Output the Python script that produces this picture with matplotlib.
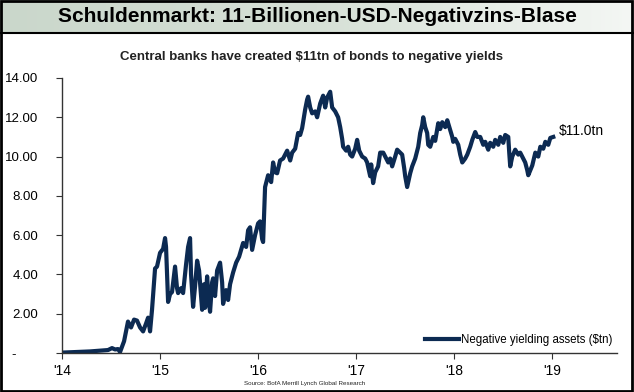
import matplotlib.pyplot as plt
import numpy as np
from matplotlib.colors import LinearSegmentedColormap
from matplotlib.patches import Rectangle

plt.rcParams['font.family'] = ['Liberation Sans', 'DejaVu Sans']

# negative yielding assets ($tn) (decimal years)
years = [2014.000, 2014.133, 2014.286, 2014.388, 2014.469, 2014.510, 2014.541, 2014.571, 2014.592, 2014.633,
         2014.673, 2014.704, 2014.735, 2014.765, 2014.796, 2014.827, 2014.857, 2014.878, 2014.898, 2014.918,
         2014.949, 2014.969, 2015.000, 2015.031, 2015.051, 2015.061, 2015.082, 2015.102, 2015.122, 2015.153,
         2015.173, 2015.184, 2015.214, 2015.235, 2015.265, 2015.286, 2015.306, 2015.316, 2015.337, 2015.357,
         2015.378, 2015.398, 2015.429, 2015.449, 2015.459, 2015.480, 2015.500, 2015.510, 2015.531, 2015.541,
         2015.561, 2015.582, 2015.612, 2015.633, 2015.643, 2015.673, 2015.694, 2015.714, 2015.745, 2015.776,
         2015.806, 2015.847, 2015.878, 2015.898, 2015.918, 2015.939, 2015.969, 2016.000, 2016.020, 2016.041,
         2016.051, 2016.071, 2016.102, 2016.133, 2016.153, 2016.173, 2016.194, 2016.224, 2016.255, 2016.276,
         2016.296, 2016.327, 2016.347, 2016.378, 2016.408, 2016.429, 2016.449, 2016.480, 2016.500, 2016.510,
         2016.531, 2016.551, 2016.582, 2016.602, 2016.633, 2016.663, 2016.684, 2016.704, 2016.735, 2016.755,
         2016.786, 2016.816, 2016.837, 2016.857, 2016.867, 2016.898, 2016.918, 2016.939, 2016.959, 2016.990,
         2017.010, 2017.031, 2017.061, 2017.092, 2017.112, 2017.143, 2017.153, 2017.173, 2017.194, 2017.224,
         2017.245, 2017.276, 2017.296, 2017.327, 2017.347, 2017.367, 2017.398, 2017.418, 2017.449, 2017.469,
         2017.490, 2017.500, 2017.520, 2017.551, 2017.571, 2017.602, 2017.633, 2017.653, 2017.673, 2017.684,
         2017.704, 2017.724, 2017.735, 2017.755, 2017.786, 2017.806, 2017.837, 2017.857, 2017.878, 2017.908,
         2017.929, 2017.959, 2017.980, 2017.990, 2018.010, 2018.041, 2018.061, 2018.082, 2018.112, 2018.133,
         2018.163, 2018.184, 2018.214, 2018.235, 2018.265, 2018.296, 2018.316, 2018.347, 2018.367, 2018.398,
         2018.418, 2018.449, 2018.469, 2018.500, 2018.520, 2018.551, 2018.561, 2018.571, 2018.592, 2018.622,
         2018.653, 2018.673, 2018.704, 2018.724, 2018.745, 2018.755, 2018.776, 2018.796, 2018.827, 2018.857,
         2018.878, 2018.908, 2018.929, 2018.959, 2018.980, 2019.010]
values = [0.02, 0.05, 0.08, 0.12, 0.15, 0.25, 0.18, 0.20, 0.05, 0.60,
          1.60, 1.30, 1.70, 1.65, 1.30, 1.10, 1.50, 1.80, 1.10, 2.20,
          4.30, 4.40, 5.10, 5.30, 5.85, 5.40, 2.60, 3.00, 3.10, 4.40,
          3.30, 3.05, 3.30, 3.05, 4.50, 5.40, 5.85, 4.00, 2.35, 3.40,
          4.70, 4.20, 2.20, 3.50, 2.30, 3.90, 2.50, 2.10, 3.60, 3.80,
          2.90, 4.20, 4.60, 3.60, 2.50, 3.20, 2.70, 3.50, 4.10, 4.60,
          4.90, 5.60, 5.40, 6.25, 6.40, 5.25, 6.00, 6.60, 6.70, 5.80,
          5.65, 8.45, 9.05, 8.70, 9.70, 9.20, 9.15, 9.80, 9.90, 10.10,
          10.30, 9.80, 10.20, 10.40, 11.20, 11.10, 11.45, 12.40, 12.90, 13.05,
          12.50, 12.20, 12.30, 12.00, 12.70, 13.10, 12.50, 13.00, 13.30, 12.50,
          12.30, 12.00, 11.50, 10.90, 10.50, 10.30, 10.50, 10.10, 10.00, 10.40,
          10.85, 10.30, 10.00, 9.90, 9.70, 9.00, 9.60, 8.65, 9.20, 9.50,
          10.20, 10.20, 10.00, 9.70, 9.90, 9.50, 10.00, 10.35, 10.20, 10.10,
          9.40, 9.00, 8.45, 9.15, 9.50, 9.90, 10.50, 11.20, 11.60, 12.00,
          11.50, 11.20, 10.60, 10.50, 11.00, 10.80, 11.70, 11.40, 11.75, 11.50,
          11.85, 11.35, 11.00, 10.75, 10.90, 10.60, 10.10, 9.70, 9.90, 10.10,
          10.50, 10.85, 11.25, 11.00, 11.00, 10.60, 10.75, 10.35, 10.70, 10.50,
          10.85, 10.60, 11.00, 10.70, 11.10, 11.00, 10.20, 9.50, 10.00, 10.35,
          10.10, 10.20, 9.90, 9.70, 9.30, 9.05, 9.30, 9.55, 10.20, 10.00,
          10.50, 10.40, 10.75, 10.60, 10.95, 11.00]

year_ticks = [2014, 2015, 2016, 2017, 2018, 2019]
year_labels = ["'14", "'15", "'16", "'17", "'18", "'19"]
y_ticks = [0, 2, 4, 6, 8, 10, 12, 14]
y_labels = ['-      ', '2.00', '4.00', '6.00', '8.00', '10.00', '12.00', '14.00']

W, H = 634, 392
fig = plt.figure(figsize=(W / 100, H / 100), dpi=100)

# title bar with a soft gradient
bar_h = 33 / H
tax = fig.add_axes([0, 1 - bar_h, 1, bar_h])
cmap = LinearSegmentedColormap.from_list('bar', ['#cad7cb', '#d6e0d6', '#f4f7f4'])
tax.imshow(np.linspace(0, 1, 256)[None, :], aspect='auto', cmap=cmap, extent=[0, 1, 0, 1])
tax.set_xlim(0, 1)
tax.set_ylim(0, 1)
tax.axis('off')
tax.text(0.5, 0.5, 'Schuldenmarkt: 11-Billionen-USD-Negativzins-Blase', ha='center', va='center',
         fontsize=15, fontweight='bold', color='black')
fig.add_artist(plt.Line2D([0, 1], [1 - bar_h, 1 - bar_h], color='black', lw=1.5, transform=fig.transFigure))

ax = fig.add_axes([62 / W, 1 - 353 / H, (617 - 62) / W, (353 - 78) / H])
ax.plot(years, values, color='#0c2a52', lw=3, solid_joinstyle='round', label='Negative yielding assets ($tn)')
ax.set_xlim(2014, 2019.66)
ax.set_ylim(0, 14)
ax.set_xticks(year_ticks)
ax.set_xticklabels(year_labels, fontsize=10)
ax.set_yticks(y_ticks)
ax.set_yticklabels(y_labels, fontsize=9.5)
ax.tick_params(axis='y', direction='out', length=4, pad=13, color='#333333')
ax.tick_params(axis='x', direction='out', length=4, pad=4, color='#333333')
for s in ['top', 'right']:
    ax.spines[s].set_visible(False)
for s in ['left', 'bottom']:
    ax.spines[s].set_color('#333333')
    ax.spines[s].set_linewidth(1.0)

ax.annotate('$11.0tn', xy=(years[-1], values[-1]), xytext=(4, 4), textcoords='offset points',
            fontsize=10, va='center', ha='left')

leg = ax.legend(loc='lower right', frameon=False, fontsize=8.3, handlelength=2.9, handletextpad=0.2,
                borderaxespad=0.0, bbox_to_anchor=(1.0, 0.01))

fig.text(312 / W, 1 - 57 / H, 'Central banks have created $11tn of bonds to negative yields',
         ha='center', va='center', fontsize=9.5, fontweight='bold', color='#222222')
fig.text(305 / W, 1 - 383 / H, 'Source: BofA Merrill Lynch Global Research', ha='center', va='center',
         fontsize=4.5, color='#222222')

# outer frame
fig.add_artist(Rectangle((0.002, 0.003), 0.995, 0.994, transform=fig.transFigure, fill=False,
                         edgecolor='black', lw=2))

fig.savefig('out.png', dpi=100)
